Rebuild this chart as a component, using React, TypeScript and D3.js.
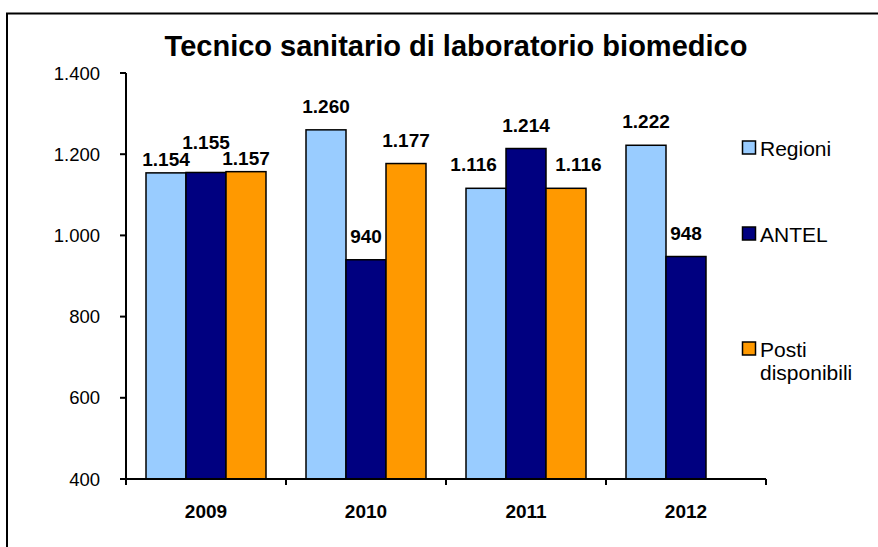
import React from "react";
import * as d3 from "d3";

const title = "Tecnico sanitario di laboratorio biomedico";
const years = ["2009", "2010", "2011", "2012"];
const seriesNames = ["Regioni", "ANTEL", "Posti disponibili"];
const regioni: (number | null)[] = [1154, 1260, 1116, 1222];
const antel: (number | null)[] = [1155, 940, 1214, 948];
const posti: (number | null)[] = [1157, 1177, 1116, null];
const colors = ["#99CCFF", "#000080", "#FF9900"];
const yTicks = [400, 600, 800, 1000, 1200, 1400];

const fmt = (v: number) => d3.format(",")(v).replace(/,/g, ".");

export default function App() {
  const W = 878, H = 547;
  const left = 126, right = 766, top = 73, bottom = 479;
  const x = d3.scaleBand<string>().domain(years).range([left, right]).paddingInner(0.25).paddingOuter(0.125);
  const xCat = d3.scaleBand<string>().domain(years).range([left, right]);
  const xs = d3.scaleBand<string>().domain(seriesNames).range([0, x.bandwidth()]);
  const y = d3.scaleLinear().domain([400, 1400]).range([bottom, top]);
  const data = [regioni, antel, posti];
  const font = "Arial, 'Liberation Sans', sans-serif";
  const labelSize = 19;
  const labelH = 15;
  const bw = xs.bandwidth();

  // compute label positions with simple collision handling
  type Lab = { key: string; cx: number; by: number; text: string; w: number; j: number; top: number };
  const labels: Lab[] = [];
  years.forEach((yr, i) => {
    const group: Lab[] = [];
    data.forEach((s, j) => {
      const v = s[i];
      if (v == null) return;
      const text = fmt(v);
      const cx = (x(yr) as number) + (xs(seriesNames[j]) as number) + bw / 2;
      group.push({ key: yr + j, cx, by: y(v) - 17, text, w: text.length * 0.556 * labelSize - 4, j, top: y(v) });
    });
    let collide = false;
    for (let k = 1; k < group.length; k++) {
      const a = group[k - 1], b = group[k];
      if (Math.abs(a.cx - b.cx) < (a.w + b.w) / 2 && Math.abs(a.by - b.by) < labelH) collide = true;
    }
    if (collide) {
      group.forEach((g, k) => { if (k % 2 === 0) g.by += 10; });
      group.forEach((g, k) => {
        if (k % 2 === 1) {
          const nb = [group[k - 1], group[k + 1]].filter(Boolean).map((n) => n.by - labelH - 1);
          g.by = Math.min(g.by, ...nb);
        }
      });
    }
    // push labels away from taller neighbouring bars
    group.forEach((g, k) => {
      const overflow = (g.w - bw) / 2;
      if (overflow <= 0) return;
      const prev = group[k - 1], next = group[k + 1];
      const prevTall = prev && prev.top < g.by;
      const nextTall = next && next.top < g.by;
      if (nextTall && !prevTall) g.cx -= overflow + 8;
      if (prevTall && !nextTall) g.cx += overflow + 8;
    });
    labels.push(...group);
  });

  return (
    <svg width={W} height={H} style={{ position: "absolute", left: 0, top: 0, background: "#fff" }} fontFamily={font}>
      <rect x={7} y={13.5} width={W + 10} height={H} fill="white" stroke="black" strokeWidth={2} />
      <text x={456} y={56} textAnchor="middle" fontSize={29} fontWeight="bold">{title}</text>
      {/* y axis */}
      <line x1={left} x2={left} y1={top} y2={bottom} stroke="black" strokeWidth={2} />
      {yTicks.map((t) => (
        <g key={t}>
          <line x1={left - 6} x2={left} y1={y(t)} y2={y(t)} stroke="black" strokeWidth={2} />
          <text x={100} y={y(t)} dy="0.36em" textAnchor="end" fontSize={18.5}>{fmt(t)}</text>
        </g>
      ))}
      {/* bars */}
      {years.map((yr, i) =>
        data.map((s, j) => {
          const v = s[i];
          if (v == null) return null;
          const bx = (x(yr) as number) + (xs(seriesNames[j]) as number);
          return (
            <rect key={yr + j} x={bx} y={y(v)} width={bw} height={bottom - y(v)} fill={colors[j]} stroke="black" strokeWidth={1.5} />
          );
        })
      )}
      {labels.map((l) => (
        <text key={"v" + l.key} x={l.cx} y={l.by} textAnchor="middle" fontSize={labelSize} fontWeight="bold">{l.text}</text>
      ))}
      {/* x axis */}
      <line x1={left - 6} x2={right} y1={bottom} y2={bottom} stroke="black" strokeWidth={2} />
      {years.map((yr) => (
        <line key={"t" + yr} x1={xCat(yr) as number} x2={xCat(yr) as number} y1={bottom} y2={bottom + 6} stroke="black" strokeWidth={2} />
      ))}
      <line x1={right} x2={right} y1={bottom} y2={bottom + 6} stroke="black" strokeWidth={2} />
      {years.map((yr) => (
        <text key={"l" + yr} x={(xCat(yr) as number) + xCat.bandwidth() / 2} y={518} textAnchor="middle" fontSize={19} fontWeight="bold">{yr}</text>
      ))}
      {/* legend */}
      {[
        { name: "Regioni", lines: ["Regioni"], y: 148 },
        { name: "ANTEL", lines: ["ANTEL"], y: 234 },
        { name: "Posti disponibili", lines: ["Posti", "disponibili"], y: 349 },
      ].map((l, j) => (
        <g key={l.name}>
          <rect x={742.5} y={l.y - 7} width={13} height={13} fill={colors[j]} stroke="black" strokeWidth={1.5} />
          <text x={760} y={l.y} fontSize={21}>
            {l.lines.map((ln, k) => (
              <tspan key={k} x={760} dy={k === 0 ? "0.36em" : "1.1em"}>{ln}</tspan>
            ))}
          </text>
        </g>
      ))}
    </svg>
  );
}
